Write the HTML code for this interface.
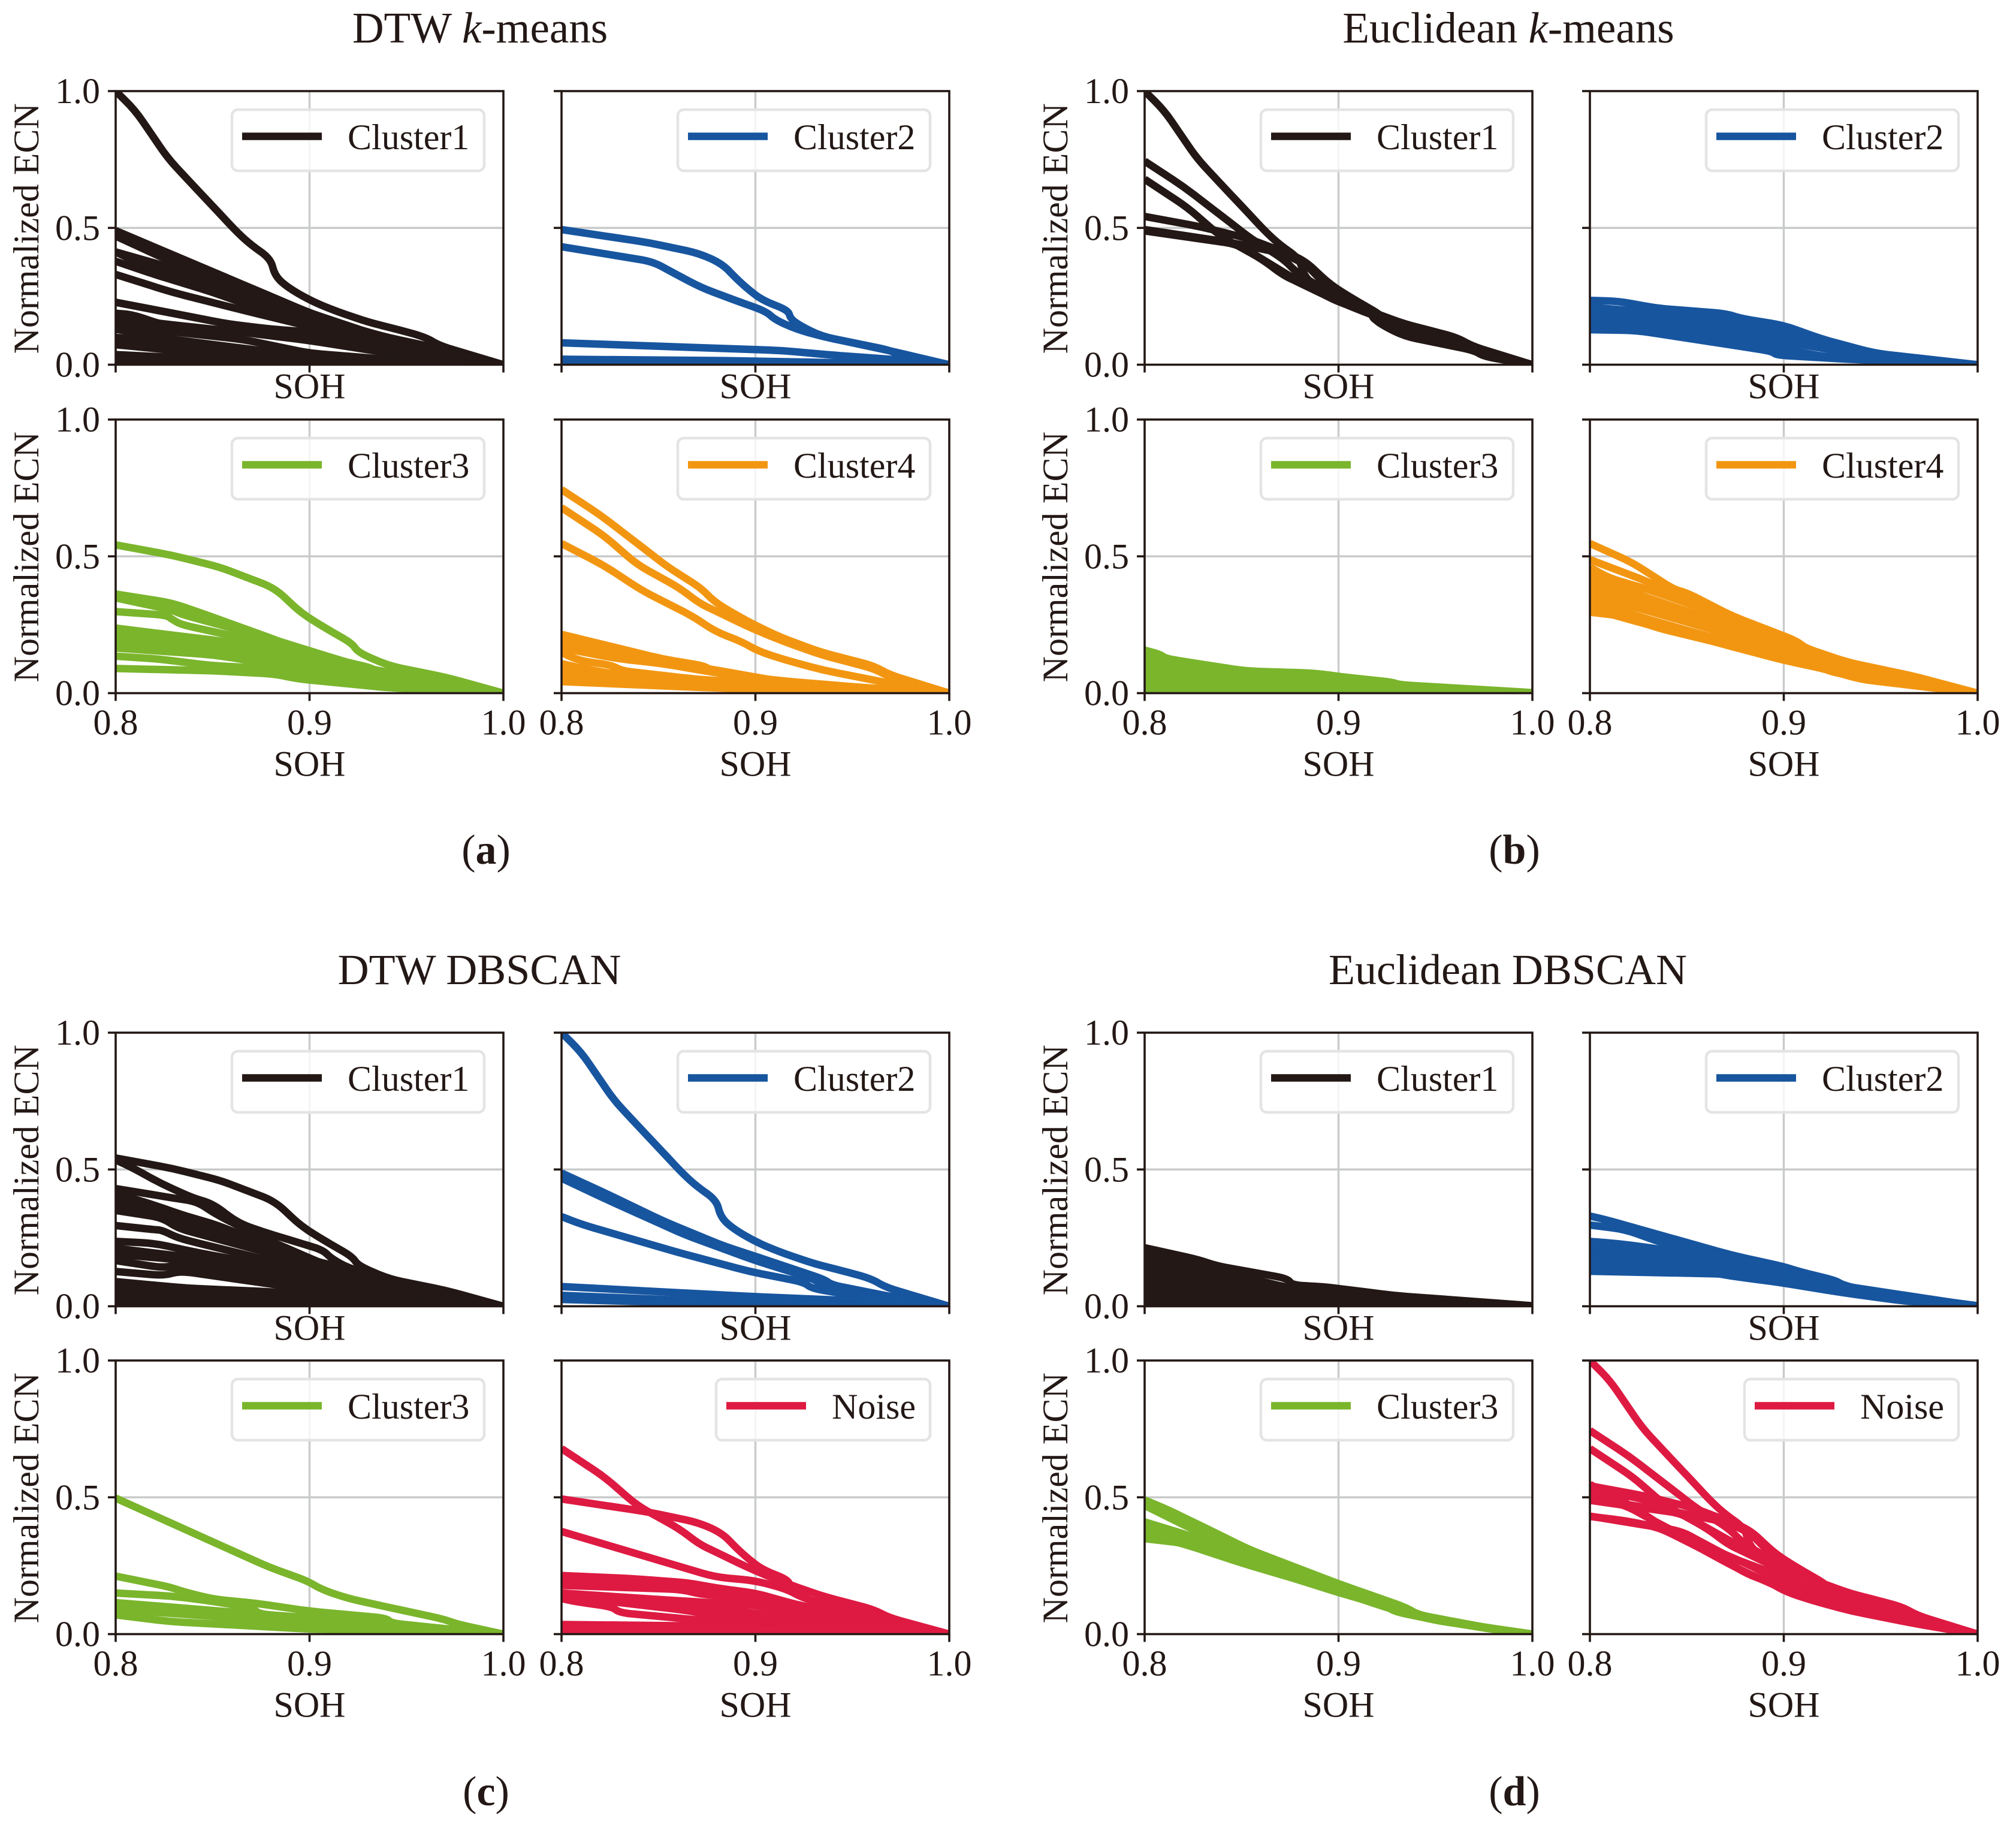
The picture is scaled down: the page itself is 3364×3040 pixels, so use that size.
<!DOCTYPE html>
<html lang="en">
<head>
<meta charset="utf-8">
<title>ECN clustering chart</title>
<style>
html,body{margin:0;padding:0;background:#fff;width:3364px;height:3040px;overflow:hidden}
svg{display:block}
text{font-family:"Liberation Serif","Times New Roman",serif;fill:#231815}
</style>
</head>
<body>
<svg id="chart" xmlns="http://www.w3.org/2000/svg" width="3364" height="3040" viewBox="0 0 3364 3040">
<rect width="3364" height="3040" fill="#fff"/>
<text x="801" y="71" font-size="73" text-anchor="middle">DTW <tspan font-style="italic">k</tspan>-means</text>
<text x="2517" y="71" font-size="73" text-anchor="middle">Euclidean <tspan font-style="italic">k</tspan>-means</text>
<text x="800" y="1642" font-size="72" text-anchor="middle">DTW DBSCAN</text>
<text x="2516" y="1642" font-size="72" text-anchor="middle">Euclidean DBSCAN</text>
<text x="811" y="1441" font-size="70" text-anchor="middle">(<tspan font-weight="bold">a</tspan>)</text>
<text x="2527" y="1441" font-size="70" text-anchor="middle">(<tspan font-weight="bold">b</tspan>)</text>
<text x="811" y="3012" font-size="70" text-anchor="middle">(<tspan font-weight="bold">c</tspan>)</text>
<text x="2527" y="3012" font-size="70" text-anchor="middle">(<tspan font-weight="bold">d</tspan>)</text>
</svg>
<script>
// Tick labels
const xTickValues = [0.8, 0.9, 1.0];
const yTickValues = [0.0, 0.5, 1.0];
const xTickLabels = ["0.8", "0.9", "1.0"];
const yTickLabels = ["0.0", "0.5", "1.0"];

// Curves shared by several panels: [SOH, normalized ECN]
const curveA = [[.8,1],[.81,.93],[.827,.754],[.84,.655],[.85,.58],[.8625,.485],[.87,.437],[.88,.387],[.882,.327],[.888,.286],[.9,.236],[.912,.2],[.93,.156],[.947,.126],[.96,.1],[.967,.07],[1,0]];
const curveB = [[.8,.744],[.82,.651],[.845,.515],[.855,.46],[.872,.384],[.8786,.335],[.89,.286],[.9,.248],[.913,.204],[.934,.149],[.961,.1],[.969,.068],[1,0]];
const curveC = [[.8,.678],[.822,.575],[.839,.47],[.861,.384],[.871,.329],[.879,.302],[.89,.264],[.9,.231],[.915,.188],[.934,.14],[.961,.09],[.969,.06],[1,0]];
const curveL = [[.8,.547],[.822,.466],[.842,.373],[.868,.28],[.879,.226],[.893,.188],[.901,.155],[.915,.122],[.935,.084],[.97,.035],[1,0]];
const curveE = [[.8,.542],[.829,.504],[.854,.46],[.882,.384],[.896,.291],[.911,.226],[.922,.182],[.925,.149],[.941,.1],[.971,.057],[1,0]];
const curveF = [[.8,.494],[.845,.446],[.871,.407],[.883,.368],[.89,.316],[.896,.277],[.904,.234],[.917,.199],[.918,.169],[.923,.143],[.934,.104],[.97,.052],[.975,.03],[1,0]];
const curveG = [[.8,.431],[.847,.377],[.856,.342],[.872,.282],[.89,.234],[.9055,.195],[.91,.165],[.921,.13],[.934,.104],[.97,.05],[1,0]];
const curveJ = [[.8,.489],[.848,.44],[.862,.38],[.877,.315],[.9,.228],[.917,.192],[.918,.163],[.934,.119],[.971,.053],[.986,.015],[1,0]];
const curveN2 = [[.8,.43],[.818,.415],[.8355,.39],[.858,.31],[.876,.24],[.899,.167],[.924,.115],[.967,.055],[.985,.015],[1,0]];
const curveP = [[.8,.51],[.82,.465],[.83,.425],[.845,.37],[.86,.32],[.88,.26],[.9,.19],[.92,.15],[.94,.1],[.97,.05],[1,0]];
const curveQ = [[.8,.53],[.83,.49],[.85,.43],[.87,.35],[.89,.27],[.91,.2],[.93,.13],[.96,.08],[1,0]];

// Panel (a) DTW k-means
const dtwKmeansCluster1 = [curveA,
 [[.8,.49],[.86,.31],[.88,.25],[.9,.19],[.92,.14],[.94,.1],[.96,.07],[.97,.05],[1,0]],
 [[.8,.47],[.826,.385],[.86,.3],[.88,.245],[.9,.19],[.94,.095],[1,0]],
 [[.8,.412],[.826,.36],[.86,.29],[.88,.24],[.9,.185],[.94,.09],[1,0]],
 [[.8,.412],[.82,.345],[.86,.262],[.88,.215],[.9,.165],[.94,.085],[1,0]],
 [[.8,.378],[.82,.33],[.85,.265],[.868,.219],[.89,.18],[.93,.1],[1,0]],
 [[.8,.33],[.829,.265],[.868,.195],[.9,.14],[.91,.123],[.95,.07],[1,0]],
 [[.8,.228],[.829,.189],[.857,.15],[.88,.12],[.91,.097],[.94,.06],[1,0]],
 [[.8,.228],[.857,.15],[.88,.13],[.9,.12],[.94,.07],[1,0]],
 [[.8,.188],[.809,.183],[.821,.153],[.829,.141],[.8576,.126],[.88,.11],[.92,.07],[1,0]],
 [[.8,.17],[.83,.145],[.866,.118],[.9,.088],[.936,.048],[.96,.03],[1,0]],
 [[.8,.145],[.823,.125],[.866,.092],[.9,.042],[.936,.022],[1,0]],
 [[.8,.13],[.823,.099],[.852,.072],[.9,.03],[1,0]],
 [[.8,.1],[.813,.09],[.859,.058],[.9,.03],[1,0]],
 [[.8,.073],[.813,.064],[.859,.032],[1,0]],
 [[.8,.037],[.85,.02],[1,0]],
 [[.8,.012],[1,0]]];
const dtwKmeansCluster2 = [curveF, curveG,
 [[.8,.08],[.913,.052],[.94,.035],[.975,.017],[1,0]],
 [[.8,.02],[.885,.015],[1,0]],
 [[.8,.01],[.885,.008],[1,0]]];
const dtwKmeansCluster3 = [curveE,
 [[.8,.362],[.829,.33],[.85,.278],[.882,.196],[.896,.158],[.918,.115],[.932,.093],[.935,.076],[.97,.03],[1,0]],
 [[.8,.348],[.829,.304],[.834,.288],[.882,.195],[.9,.155],[.93,.09],[1,0]],
 [[.8,.298],[.826,.285],[.829,.27],[.834,.25],[.86,.21],[.882,.175],[.9,.14],[.93,.085],[1,0]],
 [[.8,.238],[.82,.22],[.855,.19],[.882,.16],[.9,.135],[.93,.09],[.97,.03],[1,0]],
 [[.8,.215],[.855,.175],[.882,.15],[.92,.1],[.97,.03],[1,0]],
 [[.8,.19],[.855,.16],[.882,.13],[.92,.08],[.97,.02],[1,0]],
 [[.8,.165],[.85,.14],[.882,.105],[.92,.06],[1,0]],
 [[.8,.135],[.822,.125],[.85,.1],[.882,.09],[.92,.04],[1,0]],
 [[.8,.09],[.85,.082],[.882,.07],[.893,.053],[.94,.02],[1,0]]];
const dtwKmeansCluster4 = [curveB, curveC, curveL,
 [[.8,.215],[.826,.17],[.852,.125],[.875,.098],[.877,.076],[.915,.044],[.97,.012],[1,0]],
 [[.8,.19],[.826,.15],[.852,.115],[.875,.09],[.915,.04],[1,0]],
 [[.8,.165],[.828,.127],[.852,.108],[.875,.08],[.915,.035],[1,0]],
 [[.8,.148],[.809,.119],[.826,.102],[.831,.082],[.869,.051],[.915,.03],[1,0]],
 [[.8,.108],[.809,.093],[.8256,.071],[.85,.055],[.875,.04],[.915,.025],[1,0]],
 [[.8,.085],[.85,.045],[.9,.02],[1,0]],
 [[.8,.06],[.85,.03],[.9,.012],[1,0]],
 [[.8,.042],[.874,.02],[1,0]]];

// Panel (b) Euclidean k-means
const eucKmeansCluster1 = [curveA, curveB, curveC, curveE, curveF, curveJ];
const eucKmeansCluster2 = [
 [[.8,.235],[.815,.232],[.835,.206],[.87,.187],[.878,.169],[.9,.144],[.92,.093],[.947,.042],[1,0]],
 [[.8,.21],[.835,.19],[.87,.165],[.9,.12],[.92,.08],[.947,.035],[1,0]],
 [[.8,.185],[.835,.165],[.87,.14],[.878,.125],[.904,.095],[.92,.07],[.947,.03],[1,0]],
 [[.8,.16],[.835,.14],[.876,.113],[.904,.079],[.92,.06],[.947,.025],[1,0]],
 [[.8,.14],[.835,.125],[.876,.087],[.904,.053],[.92,.03],[.95,.012],[1,0]],
 [[.8,.128],[.824,.125],[.864,.082],[.894,.049],[.896,.035],[.933,.02],[1,0]]];
const eucKmeansCluster3 = [
 [[.8,.157],[.808,.142],[.811,.126],[.852,.081],[.888,.073],[.901,.06],[.928,.04],[.931,.031],[1,.002]],
 [[.8,.13],[.852,.06],[.9,.045],[.93,.02],[1,0]],
 [[.8,.105],[.852,.04],[.9,.025],[1,0]],
 [[.8,.08],[.85,.02],[1,0]],
 [[.8,.055],[.85,.01],[1,0]],
 [[.8,.03],[1,0]],
 [[.8,.01],[1,0]]];
const eucKmeansCluster4 = [
 [[.8,.547],[.821,.48],[.829,.445],[.843,.38],[.85,.367],[.873,.283],[.907,.19],[.911,.165],[.933,.113],[.967,.062],[1,0]],
 [[.8,.488],[.829,.41],[.85,.34],[.873,.27],[.907,.17],[.933,.1],[.967,.05],[1,0]],
 [[.8,.46],[.81,.42],[.825,.39],[.85,.33],[.873,.26],[.907,.16],[.933,.09],[.967,.045],[1,0]],
 [[.8,.435],[.81,.41],[.825,.36],[.85,.3],[.873,.235],[.9,.16],[.92,.11],[.94,.07],[.97,.03],[1,0]],
 [[.8,.41],[.825,.34],[.85,.285],[.873,.225],[.9,.155],[.92,.105],[.94,.065],[.97,.028],[1,0]],
 [[.8,.385],[.825,.33],[.85,.27],[.873,.21],[.9,.15],[.92,.1],[.94,.06],[.97,.025],[1,0]],
 [[.8,.36],[.811,.34],[.83,.3],[.85,.26],[.868,.222],[.9,.145],[.92,.098],[.94,.058],[1,0]],
 [[.8,.337],[.811,.314],[.83,.27],[.85,.23],[.868,.194],[.9,.13],[.92,.095],[.94,.055],[1,0]],
 [[.8,.31],[.83,.25],[.85,.215],[.868,.18],[.9,.12],[.92,.09],[.94,.05],[1,0]],
 [[.8,.296],[.818,.281],[.835,.238],[.899,.128],[.919,.099],[.923,.08],[.939,.058],[.973,.029],[1,0]]];

// Panel (c) DTW DBSCAN
const dtwDbscanCluster1 = [curveE,
 [[.8,.535],[.809,.505],[.823,.45],[.84,.395],[.85,.375],[.863,.305],[.876,.272],[.897,.227],[.907,.205],[.911,.176],[.92,.14],[.94,.1],[1,0]],
 [[.8,.43],[.809,.42],[.83,.395],[.842,.383],[.851,.339],[.87,.27],[.878,.244],[.908,.152],[.93,.1],[1,0]],
 [[.8,.412],[.819,.372],[.836,.33],[.851,.3],[.87,.247],[.9,.17],[1,0]],
 [[.8,.386],[.819,.346],[.836,.325],[.87,.24],[.892,.19],[.92,.115],[1,0]],
 [[.8,.37],[.836,.3],[.87,.225],[.9,.16],[.93,.095],[1,0]],
 [[.8,.35],[.824,.324],[.832,.285],[.892,.17],[.92,.11],[1,0]],
 [[.8,.295],[.82,.28],[.824,.278],[.832,.25],[.843,.23],[.892,.145],[.92,.09],[1,0]],
 [[.8,.237],[.82,.23],[.843,.195],[.89,.135],[.92,.085],[1,0]],
 [[.8,.212],[.843,.175],[.89,.12],[.92,.075],[1,0]],
 [[.8,.19],[.833,.17],[.886,.105],[.92,.07],[1,0]],
 [[.8,.167],[.825,.14],[.833,.155],[.886,.101],[.92,.06],[.96,.02],[1,0]],
 [[.8,.127],[.825,.112],[.833,.129],[.886,.075],[.92,.05],[1,0]],
 [[.8,.09],[.837,.066],[.88,.053],[.92,.03],[1,0]],
 [[.8,.065],[.837,.04],[.88,.027],[1,0]],
 [[.8,.04],[.85,.02],[.92,.015],[1,0]],
 [[.8,.015],[1,0]]];
const dtwDbscanCluster2 = [curveA,
 [[.8,.487],[.823,.412],[.853,.31],[.883,.222],[.902,.178],[.936,.097],[.939,.079],[.967,.039],[1,0]],
 [[.8,.468],[.823,.391],[.845,.321],[.863,.263],[.9,.167],[.93,.1],[.935,.075],[.96,.04],[1,0]],
 [[.8,.328],[.81,.3],[.86,.197],[.897,.127],[.925,.088],[.929,.065],[.964,.025],[1,0]],
 [[.8,.072],[.9,.035],[.97,.015],[1,0]],
 [[.8,.04],[.88,.017],[1,0]],
 [[.8,.025],[.88,.01],[1,0]]];
const dtwDbscanCluster3 = [
 [[.8,.497],[.879,.245],[.899,.194],[.906,.164],[.919,.132],[.94,.099],[.969,.055],[.976,.037],[1,0]],
 [[.8,.212],[.828,.172],[.834,.157],[.85,.128],[.872,.113],[.9,.084],[.94,.058],[.942,.04],[.97,.02],[1,0]],
 [[.8,.15],[.829,.139],[.85,.12],[.871,.095],[.874,.073],[.9,.06],[.92,.045],[1,0]],
 [[.8,.115],[.87,.075],[.92,.045],[1,0]],
 [[.8,.09],[.87,.055],[.92,.03],[1,0]],
 [[.8,.07],[.828,.046],[.898,.019],[1,0]]];
const dtwDbscanNoise = [curveC, curveF,
 [[.8,.375],[.85,.27],[.879,.209],[.9,.195],[.916,.165],[.925,.13],[.96,.07],[.97,.045],[1,0]],
 [[.8,.214],[.836,.203],[.866,.187],[.88,.168],[.9,.15],[.92,.11],[.94,.08],[.96,.05],[1,0]],
 [[.8,.195],[.84,.19],[.866,.175],[.9,.14],[.93,.09],[.96,.04],[1,0]],
 [[.8,.178],[.862,.163],[.872,.145],[.9,.13],[.93,.08],[.96,.035],[1,0]],
 [[.8,.15],[.86,.122],[.872,.117],[.9,.105],[.93,.07],[.95,.05],[1,0]],
 [[.8,.15],[.828,.123],[.864,.11],[.9,.075],[.93,.06],[.96,.03],[1,0]],
 [[.8,.14],[.864,.087],[.873,.075],[.9,.048],[.92,.04],[.94,.035],[1,0]],
 [[.8,.13],[.807,.119],[.826,.1],[.83,.078],[.873,.05],[.92,.03],[1,0]],
 [[.8,.035],[.87,.03],[.9,.035],[.932,.03],[1,0]],
 [[.8,.015],[1,0]]];

// Panel (d) Euclidean DBSCAN
const eucDbscanCluster1 = [
 [[.8,.214],[.828,.17],[.837,.148],[.874,.101],[.876,.077],[.892,.072],[.929,.039],[1,.002]],
 [[.8,.19],[.837,.13],[.876,.065],[.93,.03],[1,0]],
 [[.8,.165],[.837,.11],[.876,.05],[.93,.02],[1,0]],
 [[.8,.14],[.837,.09],[.876,.03],[1,0]],
 [[.8,.115],[.84,.07],[.88,.02],[1,0]],
 [[.8,.09],[.84,.05],[1,0]],
 [[.8,.065],[.84,.03],[1,0]],
 [[.8,.04],[.84,.015],[1,0]],
 [[.8,.015],[1,0]]];
const eucDbscanCluster2 = [
 [[.8,.33],[.81,.313],[.873,.187],[.9,.145],[.908,.127],[.927,.094],[.93,.079],[.944,.053],[1,.002]],
 [[.8,.297],[.818,.281],[.838,.23],[.873,.17],[.9,.135],[.927,.085],[.944,.045],[1,0]],
 [[.8,.237],[.815,.229],[.838,.207],[.873,.155],[.9,.125],[.93,.075],[1,0]],
 [[.8,.21],[.838,.19],[.873,.14],[.9,.11],[.93,.065],[1,0]],
 [[.8,.185],[.838,.17],[.873,.125],[.9,.095],[.93,.055],[1,0]],
 [[.8,.16],[.85,.14],[.873,.11],[.9,.085],[.93,.05],[1,0]],
 [[.8,.145],[.85,.13],[.873,.12],[.9,.09],[.93,.052],[1,0]],
 [[.8,.128],[.87,.118],[.898,.087],[.93,.05],[.961,.02],[1,0]]];
const eucDbscanCluster3 = [
 [[.8,.49],[.811,.458],[.825,.41],[.854,.309],[.9,.184],[.935,.097],[.941,.071],[.974,.027],[1,0]],
 [[.8,.47],[.825,.382],[.854,.3],[.9,.175],[.935,.09],[.941,.065],[.974,.025],[1,0]],
 [[.8,.41],[.825,.356],[.854,.285],[.9,.17],[.93,.095],[.95,.05],[1,0]],
 [[.8,.385],[.82,.34],[.85,.27],[.9,.16],[.93,.09],[.95,.05],[1,0]],
 [[.8,.365],[.82,.33],[.85,.26],[.9,.155],[.93,.085],[.95,.05],[1,0]],
 [[.8,.349],[.822,.331],[.837,.291],[.851,.262],[.9,.152],[.925,.101],[.929,.082],[.951,.05],[.98,.017],[1,0]]];
const eucDbscanNoise = [curveA, curveB, curveC, curveE, curveF, curveG, curveL, curveJ, curveN2, curveP, curveQ];

// Series colours
const colorBlack = "#231815";
const colorBlue = "#17559f";
const colorGreen = "#7ab52c";
const colorOrange = "#f29611";
const colorRed = "#de1a42";

// Axes layout
const panelWidth = 647;
const panelHeight = 456.5;
const axesList = [
 {id:"dtw-kmeans-cluster1",label:"Cluster1",color:colorBlack,lines:dtwKmeansCluster1,left:193,top:152,row:0,col:0},
 {id:"dtw-kmeans-cluster2",label:"Cluster2",color:colorBlue,lines:dtwKmeansCluster2,left:937,top:152,row:0,col:1},
 {id:"dtw-kmeans-cluster3",label:"Cluster3",color:colorGreen,lines:dtwKmeansCluster3,left:193,top:700,row:1,col:0},
 {id:"dtw-kmeans-cluster4",label:"Cluster4",color:colorOrange,lines:dtwKmeansCluster4,left:937,top:700,row:1,col:1},
 {id:"euclidean-kmeans-cluster1",label:"Cluster1",color:colorBlack,lines:eucKmeansCluster1,left:1910,top:152,row:0,col:0},
 {id:"euclidean-kmeans-cluster2",label:"Cluster2",color:colorBlue,lines:eucKmeansCluster2,left:2653,top:152,row:0,col:1},
 {id:"euclidean-kmeans-cluster3",label:"Cluster3",color:colorGreen,lines:eucKmeansCluster3,left:1910,top:700,row:1,col:0},
 {id:"euclidean-kmeans-cluster4",label:"Cluster4",color:colorOrange,lines:eucKmeansCluster4,left:2653,top:700,row:1,col:1},
 {id:"dtw-dbscan-cluster1",label:"Cluster1",color:colorBlack,lines:dtwDbscanCluster1,left:193,top:1723,row:0,col:0},
 {id:"dtw-dbscan-cluster2",label:"Cluster2",color:colorBlue,lines:dtwDbscanCluster2,left:937,top:1723,row:0,col:1},
 {id:"dtw-dbscan-cluster3",label:"Cluster3",color:colorGreen,lines:dtwDbscanCluster3,left:193,top:2270,row:1,col:0},
 {id:"dtw-dbscan-noise",label:"Noise",color:colorRed,lines:dtwDbscanNoise,left:937,top:2270,row:1,col:1},
 {id:"euclidean-dbscan-cluster1",label:"Cluster1",color:colorBlack,lines:eucDbscanCluster1,left:1910,top:1723,row:0,col:0},
 {id:"euclidean-dbscan-cluster2",label:"Cluster2",color:colorBlue,lines:eucDbscanCluster2,left:2653,top:1723,row:0,col:1},
 {id:"euclidean-dbscan-cluster3",label:"Cluster3",color:colorGreen,lines:eucDbscanCluster3,left:1910,top:2270,row:1,col:0},
 {id:"euclidean-dbscan-noise",label:"Noise",color:colorRed,lines:eucDbscanNoise,left:2653,top:2270,row:1,col:1}
];

const NS = "http://www.w3.org/2000/svg";
const ink = "#231815";
const chart = document.getElementById("chart");

function make(tag, parent, attrs) {
  const el = document.createElementNS(NS, tag);
  for (const k in attrs) el.setAttribute(k, attrs[k]);
  parent.appendChild(el);
  return el;
}

// Rounds each interior corner of the polyline without overshooting it.
function roundedPath(points) {
  const cornerRadius = 22;
  const toward = (a, b) => {
    const dx = b[0] - a[0], dy = b[1] - a[1];
    const len = Math.hypot(dx, dy) || 1;
    const r = Math.min(cornerRadius, len / 2);
    return [a[0] + dx / len * r, a[1] + dy / len * r];
  };
  const f = p => p[0].toFixed(1) + " " + p[1].toFixed(1);
  let d = "M" + f(points[0]);
  for (let i = 1; i < points.length - 1; i++) {
    d += "L" + f(toward(points[i], points[i - 1]));
    d += "Q" + f(points[i]) + " " + f(toward(points[i], points[i + 1]));
  }
  return d + "L" + f(points[points.length - 1]);
}

function drawAxes(ax) {
  const xScale = v => ax.left + (v - 0.8) / 0.2 * panelWidth;
  const yScale = v => ax.top + (1 - v) * panelHeight;
  const right = ax.left + panelWidth;
  const bottom = ax.top + panelHeight;

  const group = make("g", chart, {});
  
  

  const clip = make("clipPath", group, {id: "clip-" + ax.id});
  make("rect", clip, {x: ax.left, y: ax.top, width: panelWidth, height: panelHeight});

  // grid
  xTickValues.slice(1, 2).forEach(v => {
    const g = make("line", group, {x1: xScale(v), x2: xScale(v), y1: ax.top, y2: bottom, stroke: "#c9caca", "stroke-width": 3.4});
    
    
  });
  yTickValues.slice(1, 2).forEach(v => {
    const g = make("line", group, {x1: ax.left, x2: right, y1: yScale(v), y2: yScale(v), stroke: "#c9caca", "stroke-width": 3.4});
    
    
  });

  // series
  const seriesGroup = make("g", group, {"clip-path": "url(#clip-" + ax.id + ")"});
  
  
  ax.lines.forEach(line => {
    const d = roundedPath(line.map(p => [xScale(p[0]), yScale(p[1])]));
    const path = make("path", seriesGroup, {d: d, fill: "none", stroke: ax.color, "stroke-width": 12.5, "stroke-linejoin": "round"});
    
    
  });

  // legend
  const noise = ax.label === "Noise";
  const legendW = noise ? 361 : 425;
  const legendL = right - 30 - legendW;
  const legend = make("g", group, {});
  
  
  make("rect", legend, {x: legendL + 2, y: ax.top + 31, width: legendW - 4, height: 102, rx: 10, ry: 10, fill: "#fff", "fill-opacity": 0.8, stroke: "#e3e4e3", "stroke-width": 4.5});
  const key = make("line", legend, {x1: legendL + 19, x2: legendL + 152, y1: ax.top + 75.5, y2: ax.top + 75.5, stroke: ax.color, "stroke-width": 12.5});
  
  
  const legendText = make("text", legend, {x: legendL + (noise ? 195 : 195), y: ax.top + 97, "font-size": 60});
  
  
  legendText.textContent = ax.label;

  // spines
  const frame = make("rect", group, {x: ax.left, y: ax.top, width: panelWidth, height: panelHeight, fill: "none", stroke: ink, "stroke-width": 3.6});
  
  

  // ticks and tick labels
  xTickValues.forEach((v, i) => {
    const t = make("line", group, {x1: xScale(v), x2: xScale(v), y1: bottom, y2: bottom + 13, stroke: ink, "stroke-width": 3.6});
    
    
    if (ax.row === 1) {
      const lab = make("text", group, {x: xScale(v), y: bottom + 69, "font-size": 60, "text-anchor": "middle"});
      
      
      lab.textContent = xTickLabels[i];
    }
  });
  yTickValues.forEach((v, i) => {
    const t = make("line", group, {x1: ax.left - 13, x2: ax.left, y1: yScale(v), y2: yScale(v), stroke: ink, "stroke-width": 3.6});
    
    
    if (ax.col === 0) {
      const lab = make("text", group, {x: ax.left - 26, y: yScale(v) + 20, "font-size": 60, "text-anchor": "end"});
      
      
      lab.textContent = yTickLabels[i];
    }
  });

  // axis titles
  const xTitle = make("text", group, {x: ax.left + panelWidth / 2, y: bottom + (ax.row === 1 ? 138 : 56), "font-size": 60, "text-anchor": "middle"});
  
  
  xTitle.textContent = "SOH";
  if (ax.col === 0) {
    const cy = ax.top + panelHeight / 2 + 1;
    const bx = ax.left - 129;
    const yTitle = make("text", group, {x: bx, y: cy, "font-size": 60, "text-anchor": "middle", transform: "rotate(-90 " + bx + " " + cy + ")"});
    
    
    yTitle.textContent = "Normalized ECN";
  }
}

axesList.forEach(drawAxes);
</script>
</body>
</html>
